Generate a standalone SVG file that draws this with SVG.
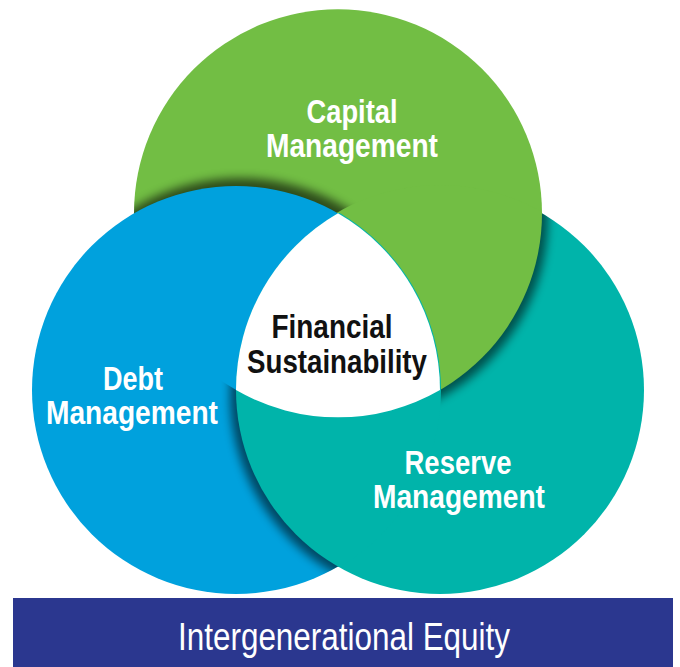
<svg xmlns="http://www.w3.org/2000/svg" width="680" height="667" viewBox="0 0 680 667">
<style>
.lbl{font-family:"Liberation Sans Narrow","Liberation Sans",Arial,sans-serif;font-weight:bold;font-size:33px;text-anchor:middle;fill:#fff}
.ctr{fill:#111}
.barTxt{font-family:"Liberation Sans Narrow","Liberation Sans",Arial,sans-serif;font-size:38px;text-anchor:middle;fill:#fff}
.green{fill:#72BE44}
.blue{fill:#00A1DD}
.teal{fill:#00B4AA}
.shadow{fill:#000;filter:url(#blur)}
</style>
<defs>
<circle id="cG" cx="338" cy="213.3" r="204"/>
<circle id="cB" cx="236" cy="390" r="204"/>
<circle id="cT" cx="440" cy="390" r="204"/>
<clipPath id="clipT"><circle cx="440" cy="390" r="205"/></clipPath>
<clipPath id="clipB"><circle cx="236" cy="390" r="205"/></clipPath>
<filter id="blur" x="-20%" y="-20%" width="140%" height="140%"><feGaussianBlur stdDeviation="5"/></filter>
<mask id="mG" maskUnits="userSpaceOnUse" x="0" y="0" width="680" height="667"><rect width="680" height="667" fill="#000"/><use href="#cG" fill="#fff"/><use href="#cT" fill="#000"/></mask>
<mask id="mT" maskUnits="userSpaceOnUse" x="0" y="0" width="680" height="667"><rect width="680" height="667" fill="#000"/><use href="#cT" fill="#fff"/></mask>
<mask id="mB" maskUnits="userSpaceOnUse" x="0" y="0" width="680" height="667"><rect width="680" height="667" fill="#000"/><use href="#cB" fill="#fff"/><use href="#cG" fill="#000"/></mask>
</defs>
<rect width="680" height="667" fill="#fff"/>
<g id="circles">
  <use id="capital-circle" href="#cG" class="green"/>
  <g mask="url(#mG)"><circle class="shadow" cx="240" cy="382" r="204" opacity="0.6"/></g>
  <use id="reserve-circle" href="#cT" class="teal"/>
  <g mask="url(#mT)"><circle class="shadow" cx="344" cy="218" r="204" opacity="0.55"/></g>
  <use href="#cG" class="green" clip-path="url(#clipT)"/>
  <use id="debt-circle" href="#cB" class="blue"/>
  <g mask="url(#mB)"><circle class="shadow" cx="434" cy="395" r="204" opacity="0.55"/></g>
  <use href="#cT" class="teal" clip-path="url(#clipB)"/>
  <path id="center-shape" d="M338 213.3 A204 204 0 0 0 236 390 A204 204 0 0 0 440 390 A204 204 0 0 0 338 213.3 Z" fill="#fff"/>
</g>
<g id="capital">
  <text class="lbl" x="352" y="123" textLength="91" lengthAdjust="spacingAndGlyphs">Capital</text>
  <text class="lbl" x="352" y="157" textLength="172" lengthAdjust="spacingAndGlyphs">Management</text>
</g>
<g id="debt">
  <text class="lbl" x="133" y="390" textLength="60" lengthAdjust="spacingAndGlyphs">Debt</text>
  <text class="lbl" x="132" y="424" textLength="172" lengthAdjust="spacingAndGlyphs">Management</text>
</g>
<g id="reserve">
  <text class="lbl" x="458" y="474" textLength="107" lengthAdjust="spacingAndGlyphs">Reserve</text>
  <text class="lbl" x="459" y="508" textLength="172" lengthAdjust="spacingAndGlyphs">Management</text>
</g>
<g id="center">
  <text class="lbl ctr" x="332" y="338" textLength="121" lengthAdjust="spacingAndGlyphs">Financial</text>
  <text class="lbl ctr" x="337" y="373" textLength="180" lengthAdjust="spacingAndGlyphs">Sustainability</text>
</g>
<g id="equity">
  <rect x="13" y="598" width="660" height="69" fill="#2B378F"/>
  <text class="barTxt" x="344" y="650" textLength="332" lengthAdjust="spacingAndGlyphs">Intergenerational Equity</text>
</g>
</svg>
